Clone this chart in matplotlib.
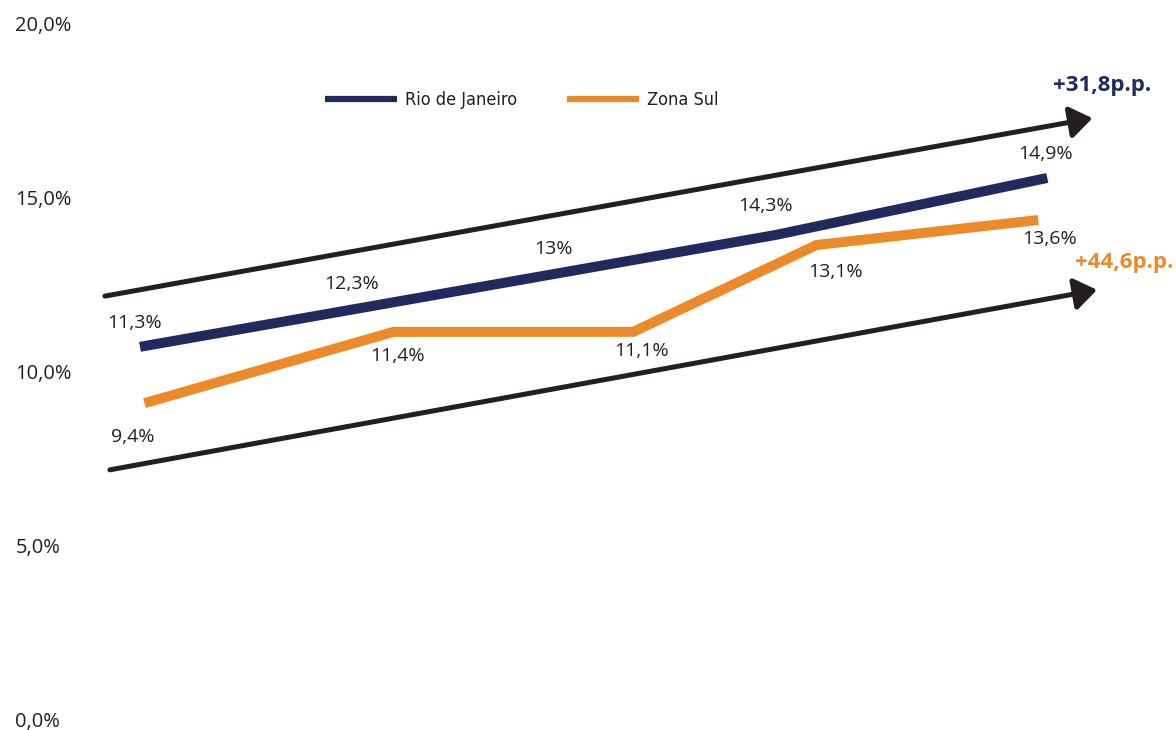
import matplotlib.pyplot as plt

# values (x = period position, y = share in %)
rio_x = [0.0, 0.97, 1.86, 2.81, 4.01]
rio_y = [10.71, 11.82, 12.84, 13.93, 15.57]
rio_labels = ["11,3%", "12,3%", "13%", "14,3%", "14,9%"]

zs_x = [0.02, 1.12, 2.18, 2.99, 3.97]
zs_y = [9.09, 11.14, 11.14, 13.64, 14.36]
zs_labels = ["9,4%", "11,4%", "11,1%", "13,1%", "13,6%"]

# trend arrows: (start, end) in data units
trend_top = [(-0.155, 12.17), (4.21, 17.29)]
trend_bottom = [(-0.133, 7.17), (4.23, 12.35)]
trend_texts = ["+31,8p.p.", "+44,6p.p."]

yticks = [0, 5, 10, 15, 20]
ytick_labels = ["0,0%", "5,0%", "10,0%", "15,0%", "20,0%"]

navy = "#1f2a5e"
orange = "#ec8a2a"
dark = "#231f20"

plt.rcParams["font.family"] = ["Open Sans", "DejaVu Sans"]

fig = plt.figure(figsize=(11.76, 7.30), dpi=100)
ax = fig.add_axes([0, 11 / 730, 1, 695 / 730])
ax.set_xlim(-140 / 226.25, 1036 / 226.25)
ax.set_ylim(0, 20)

for s in ax.spines.values():
    s.set_visible(False)
ax.set_xticks([])
ax.set_yticks(yticks)
ax.set_yticklabels(ytick_labels)
ax.tick_params(axis="y", length=0, pad=-11, labelcolor=dark)
for lbl in ax.get_yticklabels():
    lbl.set_ha("left")
    lbl.set_fontfamily("Open Sans")
    lbl.set_fontstretch("normal")
    lbl.set_fontsize(14.5)

# trend arrows
for (start, end) in [trend_top, trend_bottom]:
    ax.annotate("", xy=end, xytext=start,
                arrowprops=dict(arrowstyle="-|>,head_length=0.45,head_width=0.32",
                                lw=3.6, color=dark, mutation_scale=30,
                                shrinkA=0, shrinkB=0), annotation_clip=False)

ax.plot(rio_x, rio_y, color=navy, lw=7.2, solid_capstyle="butt",
        solid_joinstyle="miter", label="Rio de Janeiro")
ax.plot(zs_x, zs_y, color=orange, lw=7.2, solid_capstyle="butt",
        solid_joinstyle="miter", label="Zona Sul")

# label offsets in pixels (dx, dy up)
rio_off = [(-5, 24), (-8, 24), (-7, 24), (-10, 29), (-2, 24)]
zs_off = [(-12, -34), (4, -24), (8, -19), (19, -27), (11, -19)]
for x, y, t, (dx, dy) in zip(rio_x, rio_y, rio_labels, rio_off):
    ax.annotate(t, (x, y), xytext=(dx * 0.72, dy * 0.72), textcoords="offset points",
                ha="center", va="center", fontsize=14, color=dark)
for x, y, t, (dx, dy) in zip(zs_x, zs_y, zs_labels, zs_off):
    ax.annotate(t, (x, y), xytext=(dx * 0.72, dy * 0.72), textcoords="offset points",
                ha="center", va="center", fontsize=14, color=dark)

ax.annotate(trend_texts[0], trend_top[1], xytext=(10 * 0.72, 33 * 0.72),
            textcoords="offset points", ha="center", va="center",
            fontsize=16, fontweight="bold", color=navy, annotation_clip=False)
ax.annotate(trend_texts[1], trend_bottom[1], xytext=(27 * 0.72, 27 * 0.72),
            textcoords="offset points", ha="center", va="center",
            fontsize=16, fontweight="bold", color=orange, annotation_clip=False)

leg = ax.legend(loc="center left", bbox_to_anchor=(325 / 1176, 1 - 100 / 730),
                bbox_transform=fig.transFigure, ncol=2, frameon=False,
                borderpad=0, borderaxespad=0, handlelength=4.0,
                handletextpad=0.45, columnspacing=2.75,
                prop={"family": "DejaVu Sans", "stretch": "condensed", "size": 13})
for h in leg.legend_handles:
    h.set_linewidth(4.5)
for t in leg.get_texts():
    t.set_color(dark)

fig.savefig("out.png", dpi=100)
